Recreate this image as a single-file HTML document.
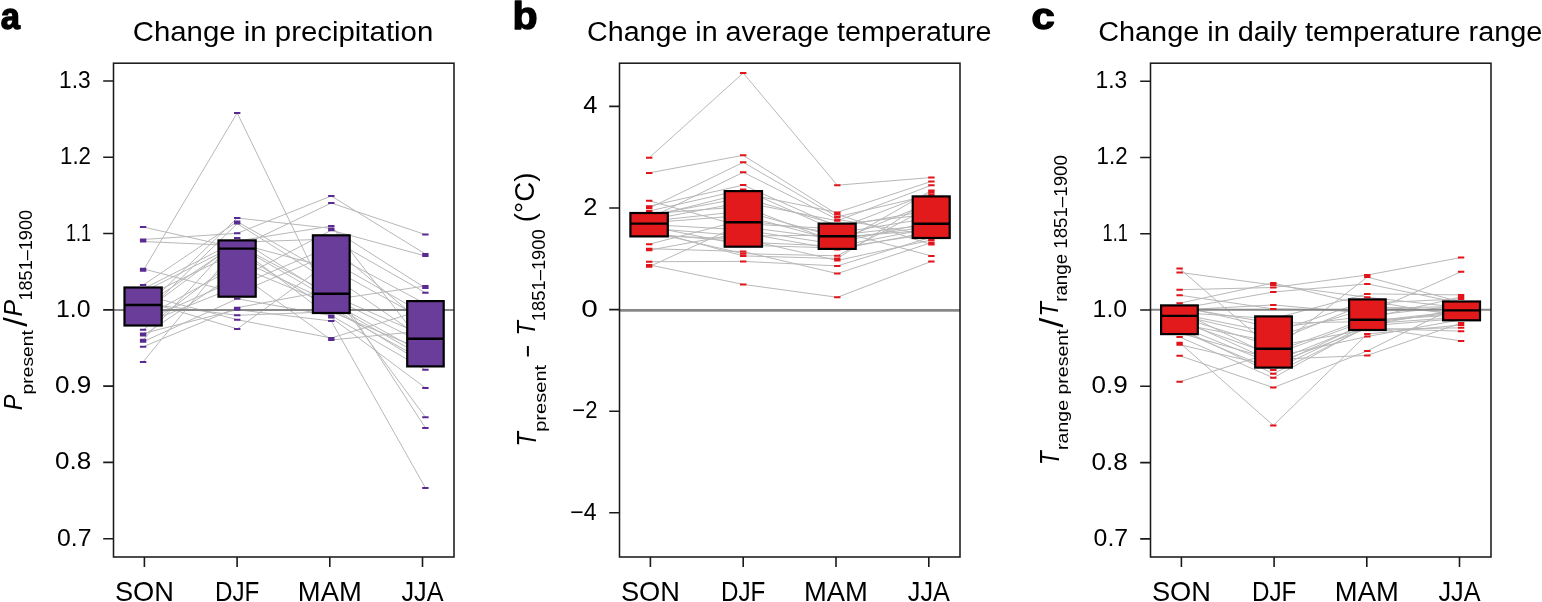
<!DOCTYPE html><html><head><meta charset="utf-8"><style>html,body{margin:0;padding:0;background:#fff;overflow:hidden}svg{display:block}text{font-family:"Liberation Sans", Arial, sans-serif;fill:#000}</style></head><body>
<svg width="1542" height="602" viewBox="0 0 1542 602">
<rect width="1542" height="602" fill="#fff"/>
<g><path d="M143.1 270.8L237.2 112.9 M143.1 227.0L237.2 248.0 M143.1 239.5L237.2 233.3 M143.1 241.5L237.2 245.7 M143.1 268.8L237.2 293.3 M143.1 285.1L237.2 221.6 M143.1 361.9L237.2 246.8 M143.1 346.8L237.2 307.7 M143.1 339.8L237.2 237.9 M143.1 341.8L237.2 298.7 M143.1 333.5L237.2 309.7 M143.1 329.8L237.2 258.9 M143.1 300.6L237.2 328.9 M143.1 294.8L237.2 319.7 M143.1 303.5L237.2 315.3 M143.1 309.4L237.2 218.0 M143.1 315.2L237.2 223.6 M143.1 289.0L237.2 241.0 M143.1 312.3L237.2 242.2 M143.1 306.5L237.2 243.3 M143.1 291.9L237.2 244.5 M143.1 297.7L237.2 252.0 M143.1 318.2L237.2 265.8 M143.1 335.5L237.2 272.6 M143.1 321.1L237.2 279.5 M143.1 324.0L237.2 286.4 M237.2 112.9L331.3 307.0 M237.2 233.3L331.3 196.0 M237.2 248.0L331.3 203.0 M237.2 241.0L331.3 226.1 M237.2 242.2L331.3 239.0 M237.2 218.0L331.3 228.4 M237.2 221.6L331.3 275.5 M237.2 223.6L331.3 282.8 M237.2 237.9L331.3 297.4 M237.2 279.5L331.3 230.2 M237.2 286.4L331.3 246.3 M237.2 293.3L331.3 253.6 M237.2 328.9L331.3 260.9 M237.2 319.7L331.3 338.0 M237.2 315.3L331.3 311.8 M237.2 307.7L331.3 290.1 M237.2 298.7L331.3 315.6 M237.2 243.3L331.3 268.2 M237.2 244.5L331.3 295.0 M237.2 245.7L331.3 299.8 M237.2 258.9L331.3 302.2 M237.2 265.8L331.3 304.6 M237.2 252.0L331.3 309.4 M237.2 246.8L331.3 317.6 M237.2 309.7L331.3 321.0 M237.2 272.6L331.3 340.0 M331.3 196.0L425.4 254.0 M331.3 203.0L425.4 234.6 M331.3 230.2L425.4 256.0 M331.3 228.4L425.4 288.0 M331.3 239.0L425.4 292.7 M331.3 226.1L425.4 347.4 M331.3 246.3L425.4 325.3 M331.3 299.8L425.4 286.0 M331.3 321.0L425.4 487.9 M331.3 317.6L425.4 387.9 M331.3 315.6L425.4 369.8 M331.3 290.1L425.4 417.2 M331.3 282.8L425.4 427.9 M331.3 338.0L425.4 309.2 M331.3 340.0L425.4 330.7 M331.3 253.6L425.4 303.8 M331.3 260.9L425.4 314.6 M331.3 268.2L425.4 320.0 M331.3 295.0L425.4 336.1 M331.3 275.5L425.4 340.5 M331.3 297.4L425.4 344.0 M331.3 311.8L425.4 350.9 M331.3 302.2L425.4 354.3 M331.3 304.6L425.4 357.8 M331.3 309.4L425.4 361.2 M331.3 307.0L425.4 364.7" fill="none" stroke="#b8b8b8" stroke-width="1"/><line x1="113.5" y1="310.0" x2="454.0" y2="310.0" stroke="#888" stroke-width="2"/><path d="M139.9 227.0h6.4 M139.9 239.5h6.4 M139.9 241.5h6.4 M139.9 268.8h6.4 M139.9 270.8h6.4 M139.9 285.1h6.4 M139.9 289.0h6.4 M139.9 291.9h6.4 M139.9 294.8h6.4 M139.9 297.7h6.4 M139.9 300.6h6.4 M139.9 303.5h6.4 M139.9 306.5h6.4 M139.9 309.4h6.4 M139.9 312.3h6.4 M139.9 315.2h6.4 M139.9 318.2h6.4 M139.9 321.1h6.4 M139.9 324.0h6.4 M139.9 329.8h6.4 M139.9 333.5h6.4 M139.9 335.5h6.4 M139.9 339.8h6.4 M139.9 341.8h6.4 M139.9 346.8h6.4 M139.9 361.9h6.4 M234.0 112.9h6.4 M234.0 218.0h6.4 M234.0 221.6h6.4 M234.0 223.6h6.4 M234.0 233.3h6.4 M234.0 237.9h6.4 M234.0 241.0h6.4 M234.0 242.2h6.4 M234.0 243.3h6.4 M234.0 244.5h6.4 M234.0 245.7h6.4 M234.0 246.8h6.4 M234.0 248.0h6.4 M234.0 252.0h6.4 M234.0 258.9h6.4 M234.0 265.8h6.4 M234.0 272.6h6.4 M234.0 279.5h6.4 M234.0 286.4h6.4 M234.0 293.3h6.4 M234.0 298.7h6.4 M234.0 307.7h6.4 M234.0 309.7h6.4 M234.0 315.3h6.4 M234.0 319.7h6.4 M234.0 328.9h6.4 M328.1 196.0h6.4 M328.1 203.0h6.4 M328.1 226.1h6.4 M328.1 228.4h6.4 M328.1 230.2h6.4 M328.1 239.0h6.4 M328.1 246.3h6.4 M328.1 253.6h6.4 M328.1 260.9h6.4 M328.1 268.2h6.4 M328.1 275.5h6.4 M328.1 282.8h6.4 M328.1 290.1h6.4 M328.1 295.0h6.4 M328.1 297.4h6.4 M328.1 299.8h6.4 M328.1 302.2h6.4 M328.1 304.6h6.4 M328.1 307.0h6.4 M328.1 309.4h6.4 M328.1 311.8h6.4 M328.1 315.6h6.4 M328.1 317.6h6.4 M328.1 321.0h6.4 M328.1 338.0h6.4 M328.1 340.0h6.4 M422.2 234.6h6.4 M422.2 254.0h6.4 M422.2 256.0h6.4 M422.2 286.0h6.4 M422.2 288.0h6.4 M422.2 292.7h6.4 M422.2 303.8h6.4 M422.2 309.2h6.4 M422.2 314.6h6.4 M422.2 320.0h6.4 M422.2 325.3h6.4 M422.2 330.7h6.4 M422.2 336.1h6.4 M422.2 340.5h6.4 M422.2 344.0h6.4 M422.2 347.4h6.4 M422.2 350.9h6.4 M422.2 354.3h6.4 M422.2 357.8h6.4 M422.2 361.2h6.4 M422.2 364.7h6.4 M422.2 369.8h6.4 M422.2 387.9h6.4 M422.2 417.2h6.4 M422.2 427.9h6.4 M422.2 487.9h6.4" stroke="#5A2A93" stroke-width="2" fill="none"/><rect x="124.50" y="287.50" width="37.20" height="38.00" fill="#6A3D9A" stroke="#000" stroke-width="2.2"/><line x1="124.50" y1="305.00" x2="161.70" y2="305.00" stroke="#000" stroke-width="2.4"/><rect x="218.50" y="240.40" width="37.20" height="56.30" fill="#6A3D9A" stroke="#000" stroke-width="2.2"/><line x1="218.50" y1="248.60" x2="255.70" y2="248.60" stroke="#000" stroke-width="2.4"/><rect x="312.90" y="235.30" width="36.80" height="77.70" fill="#6A3D9A" stroke="#000" stroke-width="2.2"/><line x1="312.90" y1="293.80" x2="349.70" y2="293.80" stroke="#000" stroke-width="2.4"/><rect x="407.20" y="301.10" width="36.50" height="65.30" fill="#6A3D9A" stroke="#000" stroke-width="2.2"/><line x1="407.20" y1="338.80" x2="443.70" y2="338.80" stroke="#000" stroke-width="2.4"/><rect x="113.5" y="63.2" width="340.5" height="493.8" fill="none" stroke="#1a1a1a" stroke-width="1.55"/><path d="M144.4 557.0V567 M237.1 557.0V567 M329.8 557.0V567 M422.5 557.0V567 M103.2 81.00H113.5 M103.2 157.28H113.5 M103.2 233.56H113.5 M103.2 309.84H113.5 M103.2 386.12H113.5 M103.2 462.40H113.5 M103.2 538.68H113.5" stroke="#1a1a1a" stroke-width="1.6" fill="none"/><text x="59.0" y="88.00" font-size="23.4" textLength="31.64" lengthAdjust="spacingAndGlyphs">1.3</text><text x="60.0" y="164.28" font-size="23.4" textLength="30.98" lengthAdjust="spacingAndGlyphs">1.2</text><text x="66.0" y="240.56" font-size="23.4" textLength="25.2" lengthAdjust="spacingAndGlyphs">1.1</text><text x="56.0" y="316.84" font-size="23.4" textLength="34.6" lengthAdjust="spacingAndGlyphs">1.0</text><text x="55.0" y="393.12" font-size="23.4" textLength="36.22" lengthAdjust="spacingAndGlyphs">0.9</text><text x="55.0" y="469.40" font-size="23.4" textLength="36.22" lengthAdjust="spacingAndGlyphs">0.8</text><text x="57.0" y="545.68" font-size="23.4" textLength="34.5" lengthAdjust="spacingAndGlyphs">0.7</text><text x="144.4" y="600.7" font-size="28.3" text-anchor="middle" textLength="59.0" lengthAdjust="spacingAndGlyphs">SON</text><text x="237.1" y="600.7" font-size="28.3" text-anchor="middle" textLength="44.4" lengthAdjust="spacingAndGlyphs">DJF</text><text x="329.8" y="600.7" font-size="28.3" text-anchor="middle" textLength="63.9" lengthAdjust="spacingAndGlyphs">MAM</text><text x="422.5" y="600.7" font-size="28.3" text-anchor="middle" textLength="42.0" lengthAdjust="spacingAndGlyphs">JJA</text></g>
<g><path d="M649.2 157.8L743.2 73.0 M649.2 172.9L743.2 155.3 M649.2 208.2L743.2 162.3 M649.2 218.3L743.2 172.3 M649.2 211.0L743.2 189.5 M649.2 244.2L743.2 220.0 M649.2 248.7L743.2 251.5 M649.2 261.7L743.2 261.4 M649.2 264.9L743.2 284.4 M649.2 206.2L743.2 185.1 M649.2 216.8L743.2 193.3 M649.2 215.3L743.2 197.8 M649.2 219.8L743.2 202.2 M649.2 213.8L743.2 206.6 M649.2 221.3L743.2 211.1 M649.2 222.8L743.2 215.5 M649.2 266.7L743.2 223.7 M649.2 200.8L743.2 226.8 M649.2 224.5L743.2 229.9 M649.2 250.2L743.2 232.9 M649.2 228.2L743.2 236.0 M649.2 235.5L743.2 239.0 M649.2 233.7L743.2 242.1 M649.2 226.3L743.2 245.2 M649.2 231.8L743.2 253.7 M649.2 230.0L743.2 255.9 M743.2 73.0L837.3 185.2 M743.2 155.3L837.3 214.4 M743.2 284.4L837.3 297.3 M743.2 251.5L837.3 273.6 M743.2 255.9L837.3 258.5 M743.2 193.3L837.3 212.4 M743.2 162.3L837.3 216.9 M743.2 172.3L837.3 219.4 M743.2 202.2L837.3 220.8 M743.2 197.8L837.3 224.7 M743.2 185.1L837.3 226.8 M743.2 223.7L837.3 228.9 M743.2 189.5L837.3 231.0 M743.2 220.0L837.3 233.1 M743.2 236.0L837.3 235.2 M743.2 211.1L837.3 237.2 M743.2 226.8L837.3 239.0 M743.2 215.5L837.3 240.8 M743.2 206.6L837.3 242.6 M743.2 229.9L837.3 244.4 M743.2 242.1L837.3 246.2 M743.2 245.2L837.3 248.0 M743.2 232.9L837.3 249.5 M743.2 253.7L837.3 255.8 M743.2 239.0L837.3 260.5 M743.2 261.4L837.3 265.9 M837.3 185.2L931.4 177.5 M837.3 297.3L931.4 261.4 M837.3 273.6L931.4 242.6 M837.3 231.0L931.4 255.9 M837.3 214.4L931.4 244.6 M837.3 219.4L931.4 235.3 M837.3 212.4L931.4 181.4 M837.3 220.8L931.4 185.3 M837.3 244.4L931.4 190.5 M837.3 258.5L931.4 198.4 M837.3 255.8L931.4 206.2 M837.3 228.9L931.4 192.5 M837.3 216.9L931.4 194.7 M837.3 240.8L931.4 202.3 M837.3 226.8L931.4 210.1 M837.3 224.7L931.4 214.0 M837.3 233.1L931.4 217.9 M837.3 242.6L931.4 221.8 M837.3 235.2L931.4 224.7 M837.3 239.0L931.4 226.5 M837.3 246.2L931.4 228.2 M837.3 237.2L931.4 230.0 M837.3 249.5L931.4 231.8 M837.3 248.0L931.4 233.6 M837.3 265.9L931.4 237.1 M837.3 260.5L931.4 240.0" fill="none" stroke="#b8b8b8" stroke-width="1"/><line x1="619.5" y1="310.3" x2="960.0" y2="310.3" stroke="#888" stroke-width="2.7"/><path d="M646.0 157.8h6.4 M646.0 172.9h6.4 M646.0 200.8h6.4 M646.0 206.2h6.4 M646.0 208.2h6.4 M646.0 211.0h6.4 M646.0 213.8h6.4 M646.0 215.3h6.4 M646.0 216.8h6.4 M646.0 218.3h6.4 M646.0 219.8h6.4 M646.0 221.3h6.4 M646.0 222.8h6.4 M646.0 224.5h6.4 M646.0 226.3h6.4 M646.0 228.2h6.4 M646.0 230.0h6.4 M646.0 231.8h6.4 M646.0 233.7h6.4 M646.0 235.5h6.4 M646.0 244.2h6.4 M646.0 248.7h6.4 M646.0 250.2h6.4 M646.0 261.7h6.4 M646.0 264.9h6.4 M646.0 266.7h6.4 M740.0 73.0h6.4 M740.0 155.3h6.4 M740.0 162.3h6.4 M740.0 172.3h6.4 M740.0 185.1h6.4 M740.0 189.5h6.4 M740.0 193.3h6.4 M740.0 197.8h6.4 M740.0 202.2h6.4 M740.0 206.6h6.4 M740.0 211.1h6.4 M740.0 215.5h6.4 M740.0 220.0h6.4 M740.0 223.7h6.4 M740.0 226.8h6.4 M740.0 229.9h6.4 M740.0 232.9h6.4 M740.0 236.0h6.4 M740.0 239.0h6.4 M740.0 242.1h6.4 M740.0 245.2h6.4 M740.0 251.5h6.4 M740.0 253.7h6.4 M740.0 255.9h6.4 M740.0 261.4h6.4 M740.0 284.4h6.4 M834.1 185.2h6.4 M834.1 212.4h6.4 M834.1 214.4h6.4 M834.1 216.9h6.4 M834.1 219.4h6.4 M834.1 220.8h6.4 M834.1 224.7h6.4 M834.1 226.8h6.4 M834.1 228.9h6.4 M834.1 231.0h6.4 M834.1 233.1h6.4 M834.1 235.2h6.4 M834.1 237.2h6.4 M834.1 239.0h6.4 M834.1 240.8h6.4 M834.1 242.6h6.4 M834.1 244.4h6.4 M834.1 246.2h6.4 M834.1 248.0h6.4 M834.1 249.5h6.4 M834.1 255.8h6.4 M834.1 258.5h6.4 M834.1 260.5h6.4 M834.1 265.9h6.4 M834.1 273.6h6.4 M834.1 297.3h6.4 M928.2 177.5h6.4 M928.2 181.4h6.4 M928.2 185.3h6.4 M928.2 190.5h6.4 M928.2 192.5h6.4 M928.2 194.7h6.4 M928.2 198.4h6.4 M928.2 202.3h6.4 M928.2 206.2h6.4 M928.2 210.1h6.4 M928.2 214.0h6.4 M928.2 217.9h6.4 M928.2 221.8h6.4 M928.2 224.7h6.4 M928.2 226.5h6.4 M928.2 228.2h6.4 M928.2 230.0h6.4 M928.2 231.8h6.4 M928.2 233.6h6.4 M928.2 235.3h6.4 M928.2 237.1h6.4 M928.2 240.0h6.4 M928.2 242.6h6.4 M928.2 244.6h6.4 M928.2 255.9h6.4 M928.2 261.4h6.4" stroke="#E2131A" stroke-width="2" fill="none"/><rect x="630.40" y="213.00" width="37.40" height="23.40" fill="#E31A1C" stroke="#000" stroke-width="2.2"/><line x1="630.40" y1="223.60" x2="667.80" y2="223.60" stroke="#000" stroke-width="2.4"/><rect x="724.70" y="191.10" width="37.30" height="55.60" fill="#E31A1C" stroke="#000" stroke-width="2.2"/><line x1="724.70" y1="222.20" x2="762.00" y2="222.20" stroke="#000" stroke-width="2.4"/><rect x="818.70" y="223.60" width="37.00" height="25.30" fill="#E31A1C" stroke="#000" stroke-width="2.2"/><line x1="818.70" y1="236.30" x2="855.70" y2="236.30" stroke="#000" stroke-width="2.4"/><rect x="912.70" y="196.40" width="37.00" height="41.60" fill="#E31A1C" stroke="#000" stroke-width="2.2"/><line x1="912.70" y1="223.80" x2="949.70" y2="223.80" stroke="#000" stroke-width="2.4"/><rect x="619.5" y="63.2" width="340.5" height="493.8" fill="none" stroke="#1a1a1a" stroke-width="1.55"/><path d="M650.4 557.0V567 M743.2 557.0V567 M836.0 557.0V567 M928.8 557.0V567 M609.2 106.40H619.5 M609.2 208.00H619.5 M609.2 309.60H619.5 M609.2 411.20H619.5 M609.2 512.80H619.5" stroke="#1a1a1a" stroke-width="1.6" fill="none"/><text x="583.3" y="113.40" font-size="23.4" textLength="14.11" lengthAdjust="spacingAndGlyphs">4</text><text x="583.3" y="215.00" font-size="23.4" textLength="14.2" lengthAdjust="spacingAndGlyphs">2</text><text x="581.3" y="316.60" font-size="23.4" textLength="16.57" lengthAdjust="spacingAndGlyphs">0</text><text x="572.3" y="418.20" font-size="23.4" textLength="25.18" lengthAdjust="spacingAndGlyphs">−2</text><text x="570.3" y="519.80" font-size="23.4" textLength="26.27" lengthAdjust="spacingAndGlyphs">−4</text><text x="650.4" y="600.7" font-size="28.3" text-anchor="middle" textLength="59.0" lengthAdjust="spacingAndGlyphs">SON</text><text x="743.2" y="600.7" font-size="28.3" text-anchor="middle" textLength="44.4" lengthAdjust="spacingAndGlyphs">DJF</text><text x="836.0" y="600.7" font-size="28.3" text-anchor="middle" textLength="63.9" lengthAdjust="spacingAndGlyphs">MAM</text><text x="928.8" y="600.7" font-size="28.3" text-anchor="middle" textLength="42.0" lengthAdjust="spacingAndGlyphs">JJA</text></g>
<g><path d="M1179.6 272.4L1273.3 285.0 M1179.6 268.5L1273.3 350.0 M1179.6 289.7L1273.3 287.5 M1179.6 295.2L1273.3 308.9 M1179.6 303.2L1273.3 283.0 M1179.6 342.7L1273.3 425.4 M1179.6 355.7L1273.3 387.6 M1179.6 381.8L1273.3 352.3 M1179.6 308.7L1273.3 292.0 M1179.6 310.0L1273.3 304.9 M1179.6 312.6L1273.3 318.7 M1179.6 307.4L1273.3 323.3 M1179.6 306.1L1273.3 328.0 M1179.6 313.9L1273.3 332.6 M1179.6 315.2L1273.3 337.2 M1179.6 323.9L1273.3 341.9 M1179.6 317.0L1273.3 346.5 M1179.6 321.6L1273.3 354.7 M1179.6 311.3L1273.3 357.0 M1179.6 333.0L1273.3 359.4 M1179.6 319.3L1273.3 361.7 M1179.6 326.1L1273.3 364.1 M1179.6 344.7L1273.3 366.4 M1179.6 330.7L1273.3 370.0 M1179.6 328.4L1273.3 373.7 M1179.6 337.0L1273.3 377.8 M1273.3 425.4L1367.3 334.0 M1273.3 387.6L1367.3 350.9 M1273.3 287.5L1367.3 275.0 M1273.3 350.0L1367.3 277.0 M1273.3 292.0L1367.3 283.9 M1273.3 318.7L1367.3 293.9 M1273.3 285.0L1367.3 297.3 M1273.3 332.6L1367.3 300.7 M1273.3 341.9L1367.3 303.2 M1273.3 283.0L1367.3 305.8 M1273.3 337.2L1367.3 308.3 M1273.3 308.9L1367.3 310.9 M1273.3 304.9L1367.3 313.4 M1273.3 328.0L1367.3 316.0 M1273.3 352.3L1367.3 318.5 M1273.3 354.7L1367.3 320.4 M1273.3 323.3L1367.3 321.5 M1273.3 366.4L1367.3 322.6 M1273.3 361.7L1367.3 323.8 M1273.3 370.0L1367.3 324.9 M1273.3 377.8L1367.3 326.0 M1273.3 373.7L1367.3 327.2 M1273.3 364.1L1367.3 328.3 M1273.3 346.5L1367.3 329.4 M1273.3 357.0L1367.3 336.5 M1273.3 359.4L1367.3 355.4 M1367.3 275.0L1461.1 257.5 M1367.3 277.0L1461.1 302.1 M1367.3 283.9L1461.1 303.2 M1367.3 293.9L1461.1 294.9 M1367.3 350.9L1461.1 304.3 M1367.3 355.4L1461.1 323.0 M1367.3 313.4L1461.1 271.8 M1367.3 327.2L1461.1 340.9 M1367.3 318.5L1461.1 296.9 M1367.3 303.2L1461.1 298.9 M1367.3 316.0L1461.1 305.4 M1367.3 308.3L1461.1 306.5 M1367.3 297.3L1461.1 307.6 M1367.3 310.9L1461.1 308.7 M1367.3 324.9L1461.1 309.8 M1367.3 321.5L1461.1 311.0 M1367.3 322.6L1461.1 312.3 M1367.3 305.8L1461.1 313.5 M1367.3 320.4L1461.1 314.7 M1367.3 300.7L1461.1 316.0 M1367.3 323.8L1461.1 317.2 M1367.3 326.0L1461.1 318.4 M1367.3 336.5L1461.1 319.7 M1367.3 334.0L1461.1 325.0 M1367.3 329.4L1461.1 327.8 M1367.3 328.3L1461.1 331.2" fill="none" stroke="#b8b8b8" stroke-width="1"/><line x1="1150.5" y1="309.8" x2="1491.0" y2="309.8" stroke="#888" stroke-width="2"/><path d="M1176.4 268.5h6.4 M1176.4 272.4h6.4 M1176.4 289.7h6.4 M1176.4 295.2h6.4 M1176.4 303.2h6.4 M1176.4 306.1h6.4 M1176.4 307.4h6.4 M1176.4 308.7h6.4 M1176.4 310.0h6.4 M1176.4 311.3h6.4 M1176.4 312.6h6.4 M1176.4 313.9h6.4 M1176.4 315.2h6.4 M1176.4 317.0h6.4 M1176.4 319.3h6.4 M1176.4 321.6h6.4 M1176.4 323.9h6.4 M1176.4 326.1h6.4 M1176.4 328.4h6.4 M1176.4 330.7h6.4 M1176.4 333.0h6.4 M1176.4 337.0h6.4 M1176.4 342.7h6.4 M1176.4 344.7h6.4 M1176.4 355.7h6.4 M1176.4 381.8h6.4 M1270.1 283.0h6.4 M1270.1 285.0h6.4 M1270.1 287.5h6.4 M1270.1 292.0h6.4 M1270.1 304.9h6.4 M1270.1 308.9h6.4 M1270.1 318.7h6.4 M1270.1 323.3h6.4 M1270.1 328.0h6.4 M1270.1 332.6h6.4 M1270.1 337.2h6.4 M1270.1 341.9h6.4 M1270.1 346.5h6.4 M1270.1 350.0h6.4 M1270.1 352.3h6.4 M1270.1 354.7h6.4 M1270.1 357.0h6.4 M1270.1 359.4h6.4 M1270.1 361.7h6.4 M1270.1 364.1h6.4 M1270.1 366.4h6.4 M1270.1 370.0h6.4 M1270.1 373.7h6.4 M1270.1 377.8h6.4 M1270.1 387.6h6.4 M1270.1 425.4h6.4 M1364.1 275.0h6.4 M1364.1 277.0h6.4 M1364.1 283.9h6.4 M1364.1 293.9h6.4 M1364.1 297.3h6.4 M1364.1 300.7h6.4 M1364.1 303.2h6.4 M1364.1 305.8h6.4 M1364.1 308.3h6.4 M1364.1 310.9h6.4 M1364.1 313.4h6.4 M1364.1 316.0h6.4 M1364.1 318.5h6.4 M1364.1 320.4h6.4 M1364.1 321.5h6.4 M1364.1 322.6h6.4 M1364.1 323.8h6.4 M1364.1 324.9h6.4 M1364.1 326.0h6.4 M1364.1 327.2h6.4 M1364.1 328.3h6.4 M1364.1 329.4h6.4 M1364.1 334.0h6.4 M1364.1 336.5h6.4 M1364.1 350.9h6.4 M1364.1 355.4h6.4 M1457.9 257.5h6.4 M1457.9 271.8h6.4 M1457.9 294.9h6.4 M1457.9 296.9h6.4 M1457.9 298.9h6.4 M1457.9 302.1h6.4 M1457.9 303.2h6.4 M1457.9 304.3h6.4 M1457.9 305.4h6.4 M1457.9 306.5h6.4 M1457.9 307.6h6.4 M1457.9 308.7h6.4 M1457.9 309.8h6.4 M1457.9 311.0h6.4 M1457.9 312.3h6.4 M1457.9 313.5h6.4 M1457.9 314.7h6.4 M1457.9 316.0h6.4 M1457.9 317.2h6.4 M1457.9 318.4h6.4 M1457.9 319.7h6.4 M1457.9 323.0h6.4 M1457.9 325.0h6.4 M1457.9 327.8h6.4 M1457.9 331.2h6.4 M1457.9 340.9h6.4" stroke="#E2131A" stroke-width="2" fill="none"/><rect x="1161.10" y="305.40" width="36.70" height="28.70" fill="#E31A1C" stroke="#000" stroke-width="2.2"/><line x1="1161.10" y1="315.90" x2="1197.80" y2="315.90" stroke="#000" stroke-width="2.4"/><rect x="1255.20" y="316.40" width="36.70" height="51.20" fill="#E31A1C" stroke="#000" stroke-width="2.2"/><line x1="1255.20" y1="348.80" x2="1291.90" y2="348.80" stroke="#000" stroke-width="2.4"/><rect x="1349.10" y="299.40" width="36.60" height="30.60" fill="#E31A1C" stroke="#000" stroke-width="2.2"/><line x1="1349.10" y1="319.80" x2="1385.70" y2="319.80" stroke="#000" stroke-width="2.4"/><rect x="1443.10" y="301.50" width="36.90" height="18.80" fill="#E31A1C" stroke="#000" stroke-width="2.2"/><line x1="1443.10" y1="310.40" x2="1480.00" y2="310.40" stroke="#000" stroke-width="2.4"/><rect x="1150.5" y="63.2" width="340.5" height="493.8" fill="none" stroke="#1a1a1a" stroke-width="1.55"/><path d="M1181.4 557.0V567 M1274.1 557.0V567 M1366.8 557.0V567 M1459.5 557.0V567 M1140.2 81.20H1150.5 M1140.2 157.48H1150.5 M1140.2 233.76H1150.5 M1140.2 310.04H1150.5 M1140.2 386.32H1150.5 M1140.2 462.60H1150.5 M1140.2 538.88H1150.5" stroke="#1a1a1a" stroke-width="1.6" fill="none"/><text x="1095.6" y="88.20" font-size="23.4" textLength="31.64" lengthAdjust="spacingAndGlyphs">1.3</text><text x="1096.6" y="164.48" font-size="23.4" textLength="30.98" lengthAdjust="spacingAndGlyphs">1.2</text><text x="1102.6" y="240.76" font-size="23.4" textLength="25.2" lengthAdjust="spacingAndGlyphs">1.1</text><text x="1092.6" y="317.04" font-size="23.4" textLength="34.6" lengthAdjust="spacingAndGlyphs">1.0</text><text x="1091.6" y="393.32" font-size="23.4" textLength="36.22" lengthAdjust="spacingAndGlyphs">0.9</text><text x="1091.6" y="469.60" font-size="23.4" textLength="36.22" lengthAdjust="spacingAndGlyphs">0.8</text><text x="1093.6" y="545.88" font-size="23.4" textLength="34.5" lengthAdjust="spacingAndGlyphs">0.7</text><text x="1181.4" y="600.7" font-size="28.3" text-anchor="middle" textLength="59.0" lengthAdjust="spacingAndGlyphs">SON</text><text x="1274.1" y="600.7" font-size="28.3" text-anchor="middle" textLength="44.4" lengthAdjust="spacingAndGlyphs">DJF</text><text x="1366.8" y="600.7" font-size="28.3" text-anchor="middle" textLength="63.9" lengthAdjust="spacingAndGlyphs">MAM</text><text x="1459.5" y="600.7" font-size="28.3" text-anchor="middle" textLength="42.0" lengthAdjust="spacingAndGlyphs">JJA</text></g>
<text x="0.8" y="28.8" font-size="36.36" font-weight="bold" textLength="19.18" lengthAdjust="spacingAndGlyphs" stroke="#000" stroke-width="1.4" stroke-linejoin="round">a</text>
<text x="512.6" y="28.5" font-size="39.57" font-weight="bold" textLength="25.12" lengthAdjust="spacingAndGlyphs" stroke="#000" stroke-width="1.4" stroke-linejoin="round">b</text>
<text x="1031.6" y="28.8" font-size="36.36" font-weight="bold" textLength="23.21" lengthAdjust="spacingAndGlyphs" stroke="#000" stroke-width="1.4" stroke-linejoin="round">c</text>
<text x="132.7" y="41.15" font-size="27.31" textLength="300.58" lengthAdjust="spacingAndGlyphs">Change in precipitation</text>
<text x="587.1" y="41.0" font-size="27.0" textLength="404.29" lengthAdjust="spacingAndGlyphs">Change in average temperature</text>
<text x="1098.2" y="41.0" font-size="27.0" textLength="444.19" lengthAdjust="spacingAndGlyphs">Change in daily temperature range</text>
<text x="-410.3" y="22.45" font-size="26.58" font-style="italic" textLength="15.75" lengthAdjust="spacingAndGlyphs" transform="rotate(-90)">P</text>
<text x="-394.4" y="32.65" font-size="17.39" textLength="64.28" lengthAdjust="spacingAndGlyphs" transform="rotate(-90)">present</text>
<text x="-316.4" y="22.45" font-size="26.58" font-style="italic" textLength="16.61" lengthAdjust="spacingAndGlyphs" transform="rotate(-90)">P</text>
<text x="-300.5" y="32.15" font-size="18.89" textLength="90.53" lengthAdjust="spacingAndGlyphs" transform="rotate(-90)">1851–1900</text>
<text x="-446.4" y="536.05" font-size="28.3" font-style="italic" textLength="14.42" lengthAdjust="spacingAndGlyphs" transform="rotate(-90)">T</text>
<text x="-431.8" y="545.6" font-size="17.01" textLength="66.92" lengthAdjust="spacingAndGlyphs" transform="rotate(-90)">present</text>
<text x="-357.4" y="537.25" font-size="28" textLength="12.51" lengthAdjust="spacingAndGlyphs" transform="rotate(-90)">−</text>
<text x="-335.6" y="535.45" font-size="26.58" font-style="italic" textLength="14.34" lengthAdjust="spacingAndGlyphs" transform="rotate(-90)">T</text>
<text x="-321.3" y="544.6" font-size="18.76" textLength="92.13" lengthAdjust="spacingAndGlyphs" transform="rotate(-90)">1851–1900</text>
<text x="-222.2" y="534.4" font-size="27.92" textLength="49.58" lengthAdjust="spacingAndGlyphs" transform="rotate(-90)">(°C)</text>
<text x="-465.0" y="1058.95" font-size="28.3" font-style="italic" textLength="13.65" lengthAdjust="spacingAndGlyphs" transform="rotate(-90)">T</text>
<text x="-450.0" y="1068.25" font-size="17.39" textLength="120.69" lengthAdjust="spacingAndGlyphs" transform="rotate(-90)">range present</text>
<text x="-316.5" y="1058.45" font-size="26.58" font-style="italic" textLength="14.34" lengthAdjust="spacingAndGlyphs" transform="rotate(-90)">T</text>
<text x="-301.8" y="1067.2" font-size="17.69" textLength="146.69" lengthAdjust="spacingAndGlyphs" transform="rotate(-90)">range 1851–1900</text>
<text x="-326.80" y="0" font-size="27" textLength="9.64" lengthAdjust="spacingAndGlyphs" transform="rotate(-90) translate(0 26.9) scale(1 1.235)">/</text>
<text x="-327.40" y="0" font-size="27" textLength="9.86" lengthAdjust="spacingAndGlyphs" transform="rotate(-90) translate(0 1062.8) scale(1 1.245)">/</text>
</svg></body></html>
